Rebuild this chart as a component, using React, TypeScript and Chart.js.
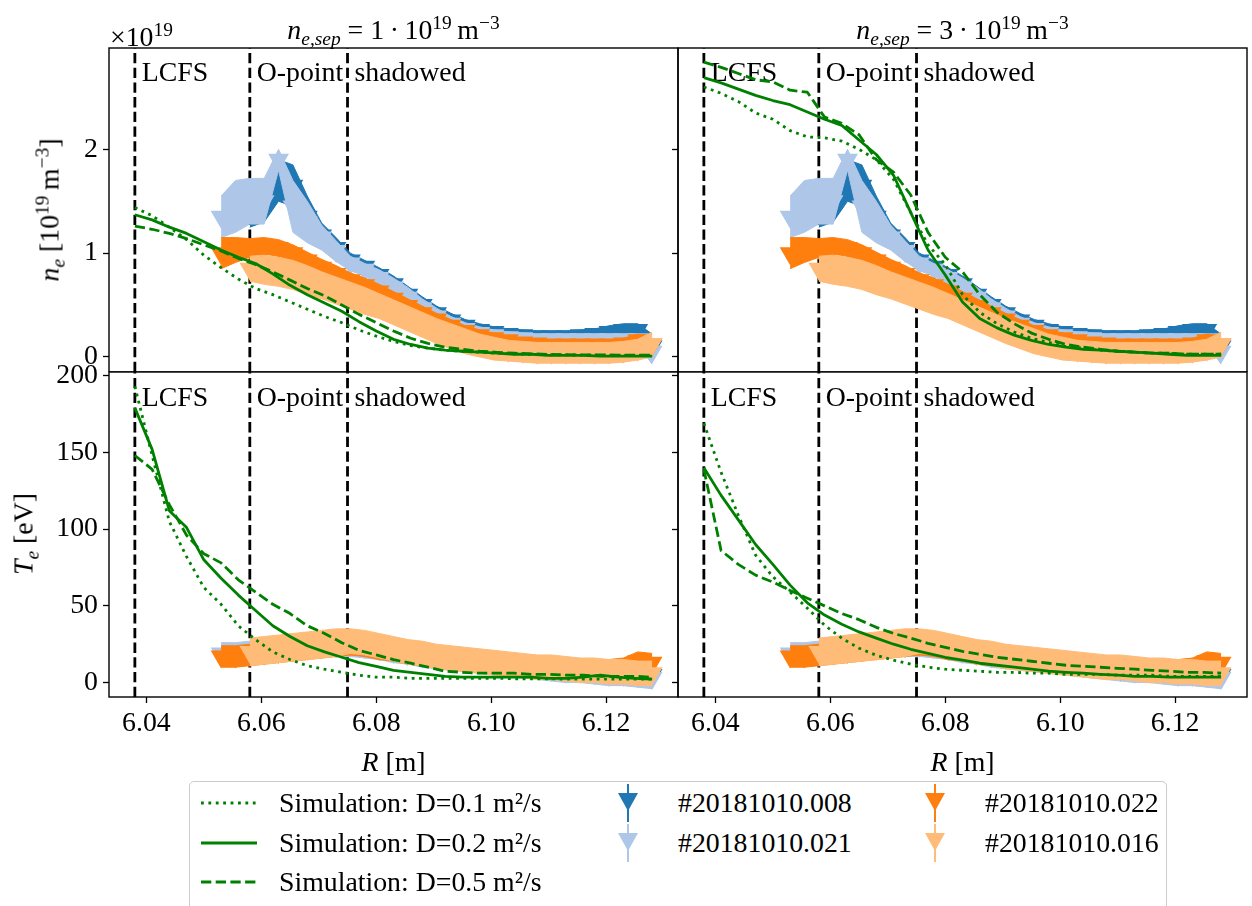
import React, { useEffect, useRef } from 'react';
import { Chart, registerables } from 'chart.js';

Chart.register(...registerables);

// ---------------- data ----------------
// simulation radial grid [m]
const R_SIM = [6.038, 6.041, 6.044, 6.047, 6.050, 6.053, 6.056, 6.059, 6.062, 6.065, 6.068, 6.071, 6.074, 6.077, 6.080, 6.083, 6.086, 6.089, 6.092, 6.095, 6.098, 6.101, 6.104, 6.107, 6.110, 6.113, 6.116, 6.119, 6.122, 6.125, 6.128];

// n_e [1e19 m^-3], n_e,sep = 1e19
const NE_SEP1_D01 = [1.44, 1.36, 1.25, 1.13, 0.98, 0.86, 0.75, 0.66, 0.60, 0.53, 0.46, 0.39, 0.33, 0.26, 0.20, 0.15, 0.11, 0.084, 0.065, 0.055, 0.046, 0.036, 0.030, 0.025, 0.020, 0.020, 0.018, 0.016, 0.016, 0.016, 0.016];
const NE_SEP1_D02 = [1.37, 1.32, 1.25, 1.19, 1.11, 1.03, 0.96, 0.90, 0.80, 0.69, 0.60, 0.52, 0.44, 0.34, 0.25, 0.17, 0.12, 0.084, 0.065, 0.055, 0.046, 0.036, 0.026, 0.026, 0.016, 0.016, 0.016, 0.007, 0.007, 0.007, 0.007];
const NE_SEP1_D05 = [1.26, 1.23, 1.19, 1.14, 1.08, 1.02, 0.95, 0.89, 0.82, 0.74, 0.66, 0.59, 0.50, 0.41, 0.33, 0.25, 0.18, 0.13, 0.094, 0.074, 0.055, 0.045, 0.036, 0.030, 0.025, 0.022, 0.020, 0.020, 0.018, 0.018, 0.018];
// n_e, n_e,sep = 3e19
const NE_SEP3_D01 = [2.60, 2.54, 2.46, 2.35, 2.29, 2.18, 2.12, 2.11, 2.08, 2.00, 1.90, 1.71, 1.39, 1.08, 0.89, 0.60, 0.43, 0.32, 0.24, 0.18, 0.14, 0.10, 0.084, 0.065, 0.055, 0.046, 0.036, 0.036, 0.026, 0.026, 0.026];
const NE_SEP3_D02 = [2.69, 2.64, 2.58, 2.52, 2.47, 2.43, 2.36, 2.29, 2.23, 2.09, 1.95, 1.75, 1.39, 1.03, 0.79, 0.53, 0.37, 0.28, 0.21, 0.16, 0.12, 0.094, 0.074, 0.065, 0.055, 0.046, 0.036, 0.026, 0.016, 0.016, 0.016];
const NE_SEP3_D05 = [2.84, 2.79, 2.73, 2.67, 2.65, 2.57, 2.55, 2.31, 2.25, 2.14, 1.90, 1.78, 1.56, 1.20, 0.96, 0.82, 0.60, 0.43, 0.32, 0.23, 0.17, 0.12, 0.094, 0.074, 0.055, 0.046, 0.036, 0.036, 0.026, 0.026, 0.026];
// T_e [eV], n_e,sep = 1e19
const TE_SEP1_D01 = [193, 148, 105, 82, 62, 51, 37, 28, 20, 15, 11, 8.7, 6.7, 4.8, 3.5, 3.5, 2.8, 2.8, 2.8, 2.8, 2.8, 2.8, 2.5, 2.5, 2.5, 2.2, 2.2, 2.2, 2.2, 2.2, 2.2];
const TE_SEP1_D02 = [179, 152, 112, 101, 80, 68, 57, 47, 37, 30, 24, 20, 16.5, 13, 10.6, 8, 6.7, 5.4, 4.1, 3.5, 3.5, 3.5, 3.5, 3.5, 2.8, 2.8, 3.5, 4.8, 3.5, 2.8, 2.2];
const TE_SEP1_D05 = [148, 139, 116, 96, 84, 78, 67, 59, 51, 45, 37, 32, 26, 21, 18, 15, 12.6, 10, 7.4, 6.7, 6.1, 6.1, 6.1, 5.4, 5.4, 4.8, 4.8, 4.1, 4.1, 4.1, 3.5];
// T_e, n_e,sep = 3e19
const TE_SEP3_D01 = [169, 137, 109, 83, 69, 59, 48.5, 37.4, 28.9, 22.4, 17.8, 14.6, 12, 10, 8.7, 8, 7.4, 6.7, 6.7, 6.1, 6.1, 5.4, 5.4, 5.4, 4.8, 4.8, 4.8, 4.1, 4.1, 4.1, 4.1];
const TE_SEP3_D02 = [140, 122, 106, 90, 77, 63.5, 52, 44, 38, 33, 29, 25, 21.7, 19, 16.5, 14.6, 12.6, 11.3, 10, 8.7, 7.4, 6.7, 6.1, 5.4, 4.8, 4.1, 4.1, 3.5, 3.5, 3.5, 3.5];
const TE_SEP3_D05 = [139, 86, 77, 70, 65.5, 60, 55, 50, 45, 41, 36, 32, 29, 25.6, 23, 20.4, 18.5, 16.5, 15.2, 13.9, 12.6, 11.3, 10.6, 10, 9.3, 8.7, 8, 7.4, 6.7, 6.7, 6.1];

// experimental radial grid [m]
const R_EXP = [6.053, 6.0555, 6.058, 6.0605, 6.063, 6.0655, 6.068, 6.0705, 6.073, 6.0755, 6.078, 6.0805, 6.083, 6.0855, 6.088, 6.0905, 6.093, 6.0955, 6.098, 6.1005, 6.103, 6.1055, 6.108, 6.1105, 6.113, 6.1155, 6.118, 6.1205, 6.123, 6.1255, 6.128];

// #20181010.008
const NE_008 = [null, null, 1.45, 1.5, 1.7, 1.65, 1.35, 1.17, 1.05, 0.93, 0.87, 0.79, 0.70, 0.60, 0.50, 0.42, 0.35, 0.30, 0.26, 0.24, 0.22, 0.21, 0.20, 0.20, 0.20, 0.21, 0.22, 0.24, 0.26, 0.26, 0.10];
const NE_ERR_008 = [null, null, 0.2, 0.2, 0.2, 0.2, 0.2, 0.12, 0.1, 0.07, 0.06, 0.07, 0.08, 0.08, 0.08, 0.07, 0.07, 0.06, 0.06, 0.05, 0.05, 0.05, 0.05, 0.05, 0.05, 0.05, 0.05, 0.06, 0.06, 0.06, 0.12];
const TE_008 = [null, null, 20, 21, 22, 23, 23, 24, 24, 25, 24, 22, 21, 19, 18, 17, 16, 15, 14, 13, 12, 11, 10, 9, 8, 8, 7, 7, 6, 6, 5];
const TE_ERR_008 = [null, null, 7, 7, 7, 7, 7, 7, 7, 7, 7, 7, 7, 7, 7, 7, 7, 7, 7, 7, 7, 7, 7, 7, 7, 7, 7, 7, 7, 7, 7];
// #20181010.021
const NE_021 = [1.35, 1.45, 1.5, 1.5, 1.9, 1.45, 1.3, 1.15, 1.02, 0.90, 0.84, 0.76, 0.67, 0.57, 0.47, 0.39, 0.32, 0.27, 0.23, 0.21, 0.19, 0.18, 0.17, 0.17, 0.17, 0.17, 0.17, 0.17, 0.17, 0.17, 0.05];
const NE_ERR_021 = [0.2, 0.25, 0.22, 0.22, 0.1, 0.25, 0.2, 0.12, 0.1, 0.07, 0.06, 0.08, 0.09, 0.1, 0.09, 0.08, 0.07, 0.06, 0.06, 0.05, 0.05, 0.05, 0.05, 0.05, 0.05, 0.05, 0.05, 0.05, 0.05, 0.05, 0.12];
const TE_021 = [19, 19, 20, 21, 22, 23, 23, 24, 24, 24, 23, 22, 20, 19, 17, 16, 15, 14, 13, 12, 11, 10, 9, 8, 7, 7, 6, 5, 5, 4, 3];
const TE_ERR_021 = [7, 7, 7, 7, 7, 7, 7, 7, 7, 7, 7, 7, 7, 7, 7, 7, 7, 7, 7, 7, 7, 7, 7, 7, 7, 7, 7, 7, 7, 7, 7];
// #20181010.022
const NE_022 = [1.0, 1.03, 1.05, 1.07, 1.05, 1.0, 0.93, 0.86, 0.80, 0.74, 0.69, 0.63, 0.56, 0.49, 0.42, 0.36, 0.30, 0.25, 0.21, 0.18, 0.16, 0.14, 0.13, 0.12, 0.12, 0.12, 0.12, 0.12, 0.13, 0.16, 0.12];
const NE_ERR_022 = [0.15, 0.12, 0.09, 0.08, 0.08, 0.08, 0.08, 0.08, 0.08, 0.07, 0.07, 0.07, 0.07, 0.07, 0.07, 0.06, 0.06, 0.05, 0.05, 0.05, 0.04, 0.04, 0.04, 0.04, 0.04, 0.04, 0.04, 0.04, 0.05, 0.06, 0.08];
const TE_022 = [17, 17, 18, 19, 20, 21, 22, 23, 24, 25, 24, 22, 21, 19, 18, 17, 16, 15, 14, 13, 12, 11, 10, 9, 9, 8, 8, 8, 10, 14, 13];
const TE_ERR_022 = [7, 7, 7, 7, 7, 7, 7, 7, 7, 7, 7, 7, 7, 7, 7, 7, 7, 7, 7, 7, 7, 7, 7, 7, 7, 7, 7, 7, 6, 6, 6];
// #20181010.016
const NE_016 = [null, null, 0.85, 0.84, 0.82, 0.79, 0.74, 0.69, 0.64, 0.59, 0.54, 0.49, 0.43, 0.37, 0.31, 0.25, 0.20, 0.15, 0.11, 0.08, 0.06, 0.05, 0.04, 0.04, 0.04, 0.04, 0.04, 0.04, 0.05, 0.07, 0.12];
const NE_ERR_016 = [null, null, 0.12, 0.14, 0.14, 0.14, 0.14, 0.13, 0.13, 0.13, 0.13, 0.12, 0.12, 0.12, 0.12, 0.12, 0.12, 0.12, 0.11, 0.11, 0.1, 0.1, 0.1, 0.1, 0.1, 0.1, 0.1, 0.1, 0.1, 0.1, 0.12];
const TE_016 = [null, null, 20, 21, 22, 23, 24, 25, 26, 27, 26, 24, 22, 20, 19, 17, 16, 15, 14, 13, 12, 11, 10, 10, 9, 8, 8, 7, 7, 6, 6];
const TE_ERR_016 = [null, null, 9, 9, 9, 9, 9, 9, 9, 8, 8, 8, 8, 8, 8, 8, 8, 8, 8, 8, 8, 8, 8, 8, 8, 8, 8, 8, 8, 8, 8];

// region boundaries
const BOUNDARY_R = [6.038, 6.058, 6.075];
const BOUNDARY_LABELS = ['LCFS', 'O-point', 'shadowed'];

const SIM_LABELS = ['Simulation: D=0.1 m²/s', 'Simulation: D=0.2 m²/s', 'Simulation: D=0.5 m²/s'];
const EXP_LABELS = ['#20181010.008', '#20181010.021', '#20181010.022', '#20181010.016'];

// ---------------- style ----------------
const FONT_FAMILY = '"Liberation Serif", "Times New Roman", serif';
const FS = 27.8;
const C_SIM = '#008000';
const C_EXP = ['#1f77b4', '#aec7e8', '#ff7f0e', '#ffbb78'];
const SIM_DASHES = [[2.8, 4.6], [], [10.3, 4.4]];
const LABEL_OFFSET_R = 0.0012;
const NE_LABEL_Y = 2.66;
const TE_LABEL_Y = 180;

const X_MIN = 6.0335, X_MAX = 6.1325;
const NE_MIN = -0.145, NE_MAX = 2.976;
const TE_MIN = -9.4, TE_MAX = 202.4;

function toPoints(xs: number[], ys: (number | null)[]) {
  const out: { x: number; y: number }[] = [];
  xs.forEach((x, i) => { const y = ys[i]; if (y !== null && y !== undefined) out.push({ x, y }); });
  return out;
}
function toBand(xs: number[], ys: (number | null)[], es: (number | null)[], sign: number) {
  const out: { x: number; y: number }[] = [];
  xs.forEach((x, i) => { const y = ys[i]; const e = es[i]; if (y !== null && e !== null) out.push({ x, y: (y as number) + sign * (e as number) }); });
  return out;
}

const decoPlugin = {
  id: 'panelDeco',
  beforeDatasetsDraw(chart: any, _args: any, opts: any) {
    const { ctx, chartArea: a, scales } = chart;
    ctx.save();
    ctx.beginPath();
    ctx.rect(a.left, a.top, a.right - a.left, a.bottom - a.top);
    ctx.clip();
    ctx.strokeStyle = '#000';
    ctx.lineWidth = 2.8;
    ctx.setLineDash([10.3, 4.4]);
    BOUNDARY_R.forEach((r) => {
      const px = scales.x.getPixelForValue(r);
      ctx.beginPath();
      ctx.moveTo(px, a.bottom);
      ctx.lineTo(px, a.top);
      ctx.stroke();
    });
    ctx.setLineDash([]);
    ctx.fillStyle = '#000';
    ctx.font = `${FS}px ${FONT_FAMILY}`;
    ctx.textBaseline = 'alphabetic';
    ctx.textAlign = 'left';
    BOUNDARY_R.forEach((r, i) => {
      ctx.fillText(BOUNDARY_LABELS[i], scales.x.getPixelForValue(r + LABEL_OFFSET_R), scales.y.getPixelForValue(opts.labelY));
    });
    ctx.restore();
  },
  afterDraw(chart: any) {
    const { ctx, chartArea: a } = chart;
    ctx.save();
    ctx.strokeStyle = '#000';
    ctx.lineWidth = 1.4;
    ctx.strokeRect(a.left, a.top, a.right - a.left, a.bottom - a.top);
    ctx.restore();
  },
};

type PanelCfg = {
  left: number; top: number; width: number; height: number;
  pad: { top: number; right: number; bottom: number; left: number };
  yWidth: number; xHeight: number; showX: boolean; showYLabels: boolean;
  quantity: 'ne' | 'te'; sims: number[][];
};

const PANELS: PanelCfg[] = [
  { left: 0, top: 0, width: 680, height: 372, pad: { top: 48, right: 2, bottom: 0, left: 0 }, yWidth: 109, xHeight: 0, showX: false, showYLabels: true, quantity: 'ne', sims: [NE_SEP1_D01, NE_SEP1_D02, NE_SEP1_D05] },
  { left: 0, top: 356, width: 680, height: 400, pad: { top: 16, right: 2, bottom: 0, left: 0 }, yWidth: 109, xHeight: 59, showX: true, showYLabels: true, quantity: 'te', sims: [TE_SEP1_D01, TE_SEP1_D02, TE_SEP1_D05] },
  { left: 668, top: 0, width: 584, height: 372, pad: { top: 48, right: 5, bottom: 0, left: 0 }, yWidth: 10, xHeight: 0, showX: false, showYLabels: false, quantity: 'ne', sims: [NE_SEP3_D01, NE_SEP3_D02, NE_SEP3_D05] },
  { left: 668, top: 356, width: 584, height: 400, pad: { top: 16, right: 5, bottom: 0, left: 0 }, yWidth: 10, xHeight: 59, showX: true, showYLabels: false, quantity: 'te', sims: [TE_SEP3_D01, TE_SEP3_D02, TE_SEP3_D05] },
];

function buildConfig(cfg: PanelCfg): any {
  const isNe = cfg.quantity === 'ne';
  const exp = isNe
    ? [[NE_008, NE_ERR_008], [NE_021, NE_ERR_021], [NE_022, NE_ERR_022], [NE_016, NE_ERR_016]]
    : [[TE_008, TE_ERR_008], [TE_021, TE_ERR_021], [TE_022, TE_ERR_022], [TE_016, TE_ERR_016]];
  const datasets: any[] = [];
  cfg.sims.forEach((vals, i) => {
    datasets.push({
      label: SIM_LABELS[i], data: toPoints(R_SIM, vals), borderColor: C_SIM, borderWidth: 2.8,
      borderDash: SIM_DASHES[i], borderJoinStyle: 'round', pointRadius: 0, fill: false, order: 0,
    });
  });
  exp.forEach(([vals, errs], k) => {
    const color = C_EXP[k];
    const order = 4 - k;
    datasets.push({
      label: EXP_LABELS[k], data: toPoints(R_EXP, vals as any), showLine: false, pointStyle: 'triangle',
      pointRotation: 180, pointRadius: 12, pointBackgroundColor: color, pointBorderColor: color,
      pointBorderWidth: 0, order,
    });
    datasets.push({
      data: toBand(R_EXP, vals as any, errs as any, 1), borderColor: color, borderWidth: 1, pointRadius: 0,
      fill: '+1', backgroundColor: color, order: order + 0.5,
    });
    datasets.push({
      data: toBand(R_EXP, vals as any, errs as any, -1), borderColor: color, borderWidth: 1, pointRadius: 0,
      fill: false, order: order + 0.5,
    });
  });

  const font = { family: FONT_FAMILY, size: FS };
  const grid = { drawOnChartArea: false, drawTicks: true, tickLength: 6, tickWidth: 1.3, tickColor: '#000', color: '#000' };

  return {
    type: 'line',
    data: { datasets },
    options: {
      animation: false,
      responsive: false,
      maintainAspectRatio: false,
      devicePixelRatio: 1,
      events: [],
      layout: { padding: cfg.pad, autoPadding: false },
      plugins: {
        legend: { display: false },
        tooltip: { enabled: false },
        panelDeco: { labelY: isNe ? NE_LABEL_Y : TE_LABEL_Y },
      },
      scales: {
        x: {
          type: 'linear', min: X_MIN, max: X_MAX, display: cfg.showX,
          ticks: {
            stepSize: 0.02, includeBounds: false, font, color: '#000', padding: 4, maxRotation: 0,
            autoSkip: false, callback: (v: number) => v.toFixed(2),
          },
          grid, border: { display: false },
          afterFit: (s: any) => { s.height = cfg.xHeight; s.paddingLeft = 0; s.paddingRight = 0; },
        },
        y: {
          type: 'linear', min: isNe ? NE_MIN : TE_MIN, max: isNe ? NE_MAX : TE_MAX,
          ticks: {
            display: cfg.showYLabels, stepSize: isNe ? 1 : 50, includeBounds: false, font, color: '#000',
            padding: 5, callback: (v: number) => String(v),
          },
          grid, border: { display: false },
          afterFit: (s: any) => { s.width = cfg.yWidth; s.paddingTop = 0; s.paddingBottom = 0; },
        },
      },
    },
    plugins: [decoPlugin],
  };
}

function Panel({ cfg }: { cfg: PanelCfg }) {
  const ref = useRef<HTMLCanvasElement | null>(null);
  useEffect(() => {
    const chart = new Chart(ref.current as HTMLCanvasElement, buildConfig(cfg));
    return () => chart.destroy();
  }, [cfg]);
  return (
    <canvas
      ref={ref}
      width={cfg.width}
      height={cfg.height}
      style={{ position: 'absolute', left: cfg.left, top: cfg.top, width: cfg.width, height: cfg.height }}
    />
  );
}

const textBase: React.CSSProperties = {
  position: 'absolute', fontFamily: FONT_FAMILY, fontSize: FS, lineHeight: '32px', color: '#000', whiteSpace: 'nowrap',
};
const supStyle: React.CSSProperties = { fontSize: '70%', position: 'relative', top: '-0.5em' };
const subStyle: React.CSSProperties = { fontSize: '70%', position: 'relative', top: '0.3em' };

function Title({ cx, value }: { cx: number; value: string }) {
  return (
    <div style={{ ...textBase, left: cx, top: 14, transform: 'translateX(-50%)' }}>
      <i>n</i><span style={subStyle}><i>e,sep</i></span> = {value}&thinsp;·&thinsp;10<span style={supStyle}>19</span>&thinsp;m<span style={supStyle}>−3</span>
    </div>
  );
}

function LineHandle({ dash }: { dash: number[] }) {
  return (
    <svg width={58} height={10} style={{ position: 'absolute', left: 0, top: 11 }}>
      <line x1={1} y1={5} x2={57} y2={5} stroke={C_SIM} strokeWidth={2.8} strokeDasharray={dash.length ? dash.join(' ') : undefined} />
    </svg>
  );
}
function MarkerHandle({ color }: { color: string }) {
  return (
    <svg width={24} height={44} style={{ position: 'absolute', left: -12, top: -6 }}>
      <line x1={12} y1={3} x2={12} y2={41} stroke={color} strokeWidth={2} />
      <polygon points="2,12 22,12 12,30" fill={color} />
    </svg>
  );
}

const LEGEND_ROWS = [803, 843, 882];
const LEGEND_MARKER_X = [628, 935];
const LEGEND_TEXT_X = [678, 985];

export default function App() {
  return (
    <div style={{ position: 'absolute', left: 0, top: 0, width: 1252, height: 906, overflow: 'hidden', background: '#fff' }}>
      {PANELS.map((p, i) => <Panel key={i} cfg={p} />)}

      {/* titles and offset text */}
      <Title cx={393.5} value="1" />
      <Title cx={962.5} value="3" />
      <div style={{ ...textBase, left: 110, top: 21 }}>×10<span style={supStyle}>19</span></div>

      {/* y labels */}
      <div style={{ ...textBase, left: 51, top: 210, transform: 'translate(-50%, -50%) rotate(-90deg)' }}>
        <i>n</i><span style={subStyle}><i>e</i></span> [10<span style={supStyle}>19</span>&thinsp;m<span style={supStyle}>−3</span>]
      </div>
      <div style={{ ...textBase, left: 25, top: 534, transform: 'translate(-50%, -50%) rotate(-90deg)' }}>
        <i>T</i><span style={subStyle}><i>e</i></span> [eV]
      </div>

      {/* x labels */}
      <div style={{ ...textBase, left: 393.5, top: 746, transform: 'translateX(-50%)' }}><i>R</i> [m]</div>
      <div style={{ ...textBase, left: 962.5, top: 746, transform: 'translateX(-50%)' }}><i>R</i> [m]</div>

      {/* legend */}
      <div style={{ position: 'absolute', left: 189, top: 781, width: 978, height: 140, border: '1.3px solid #cccccc', borderRadius: 5, background: 'rgba(255,255,255,0.8)', boxSizing: 'border-box' }} />
      {SIM_LABELS.map((lab, i) => (
        <div key={'s' + i} style={{ position: 'absolute', left: 200, top: LEGEND_ROWS[i] - 16, height: 32 }}>
          <LineHandle dash={SIM_DASHES[i]} />
          <div style={{ ...textBase, left: 79, top: 0 }}>{lab}</div>
        </div>
      ))}
      {EXP_LABELS.map((lab, k) => {
        const col = k < 2 ? 0 : 1;
        const row = k % 2;
        const cx = LEGEND_MARKER_X[col];
        const tx = LEGEND_TEXT_X[col];
        return (
          <div key={'e' + k} style={{ position: 'absolute', left: cx, top: LEGEND_ROWS[row] - 16, height: 32 }}>
            <MarkerHandle color={C_EXP[k]} />
            <div style={{ ...textBase, left: tx - cx, top: 0 }}>{lab}</div>
          </div>
        );
      })}
    </div>
  );
}
